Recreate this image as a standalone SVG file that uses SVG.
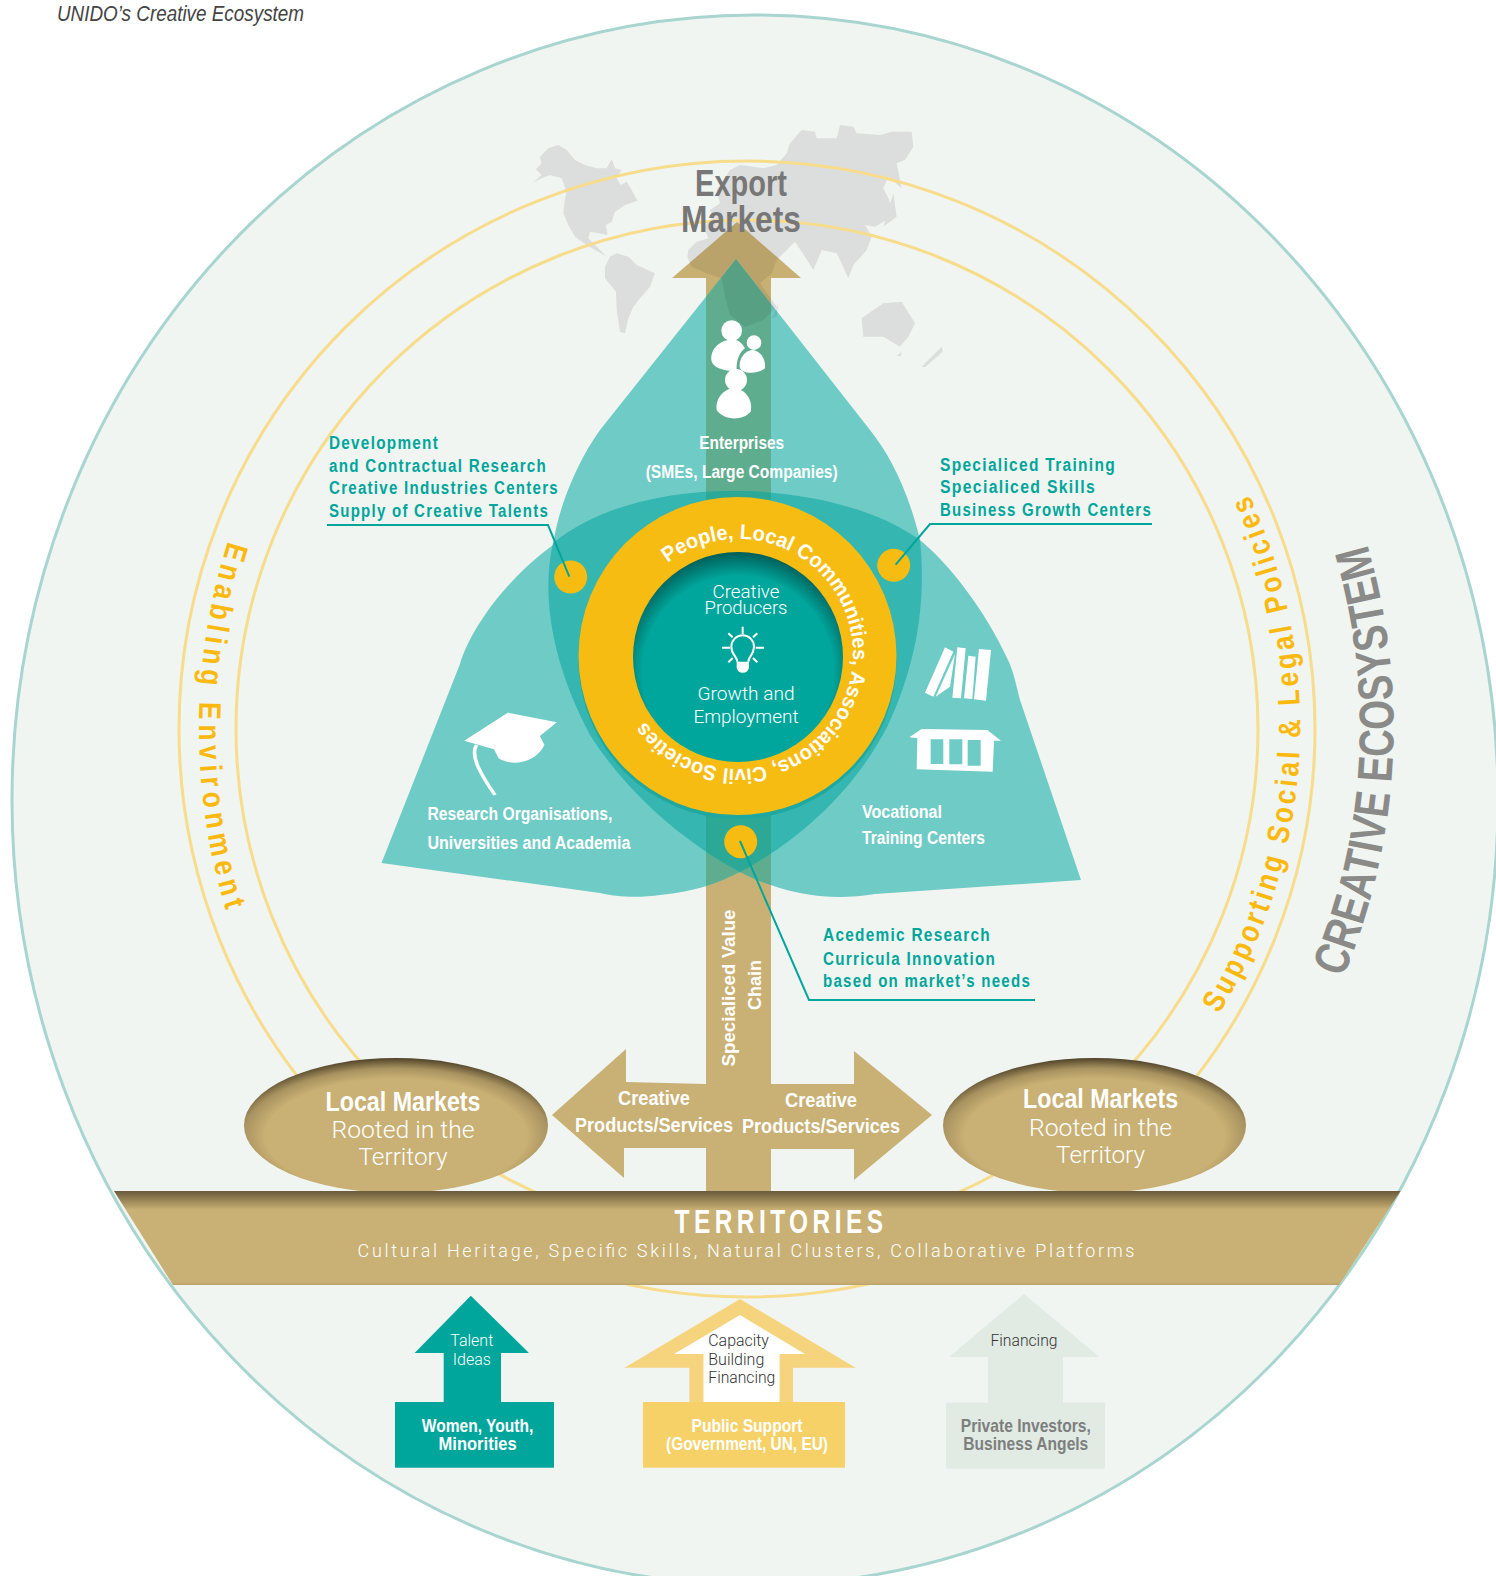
<svg xmlns="http://www.w3.org/2000/svg" xmlns:xlink="http://www.w3.org/1999/xlink" width="1496" height="1576" viewBox="0 0 1496 1576">
<style>
text{font-family:"Liberation Sans",Arial,sans-serif;}
.b{font-weight:700;}
.l{font-family:Roboto,"Liberation Sans",sans-serif;font-weight:300;}
.m{text-anchor:middle;}
.w{fill:#fff;}
.t{fill:#00a69c;font-size:18px;font-weight:700;letter-spacing:1.5px;}
.y{fill:#fbb90f;font-size:31px;font-weight:700;}
.tan{fill:#c9b074;}
.ring{fill:none;stroke:#f7dc8c;stroke-width:3;}
.lead{fill:none;stroke:#00a69c;stroke-width:2;}
.dot{fill:#f6bc12;}
</style>
<defs>
<radialGradient id="core" cx=".5" cy=".57" r=".57"><stop offset=".8" stop-color="#00a69c"/><stop offset="1" stop-color="#005e58"/></radialGradient>
<radialGradient id="oval" cx=".5" cy=".58" r=".58"><stop offset=".74" stop-color="#c9b074"/><stop offset=".87" stop-color="#a8925f"/><stop offset="1" stop-color="#4f4329"/></radialGradient>
<linearGradient id="band" x1="0" y1="0" x2="0" y2="1"><stop offset="0" stop-color="#6a5b3c"/><stop offset=".2" stop-color="#c9b074"/><stop offset=".97" stop-color="#c9b074"/><stop offset="1" stop-color="#b9a36b"/></linearGradient>
<path id="leaf" d="M736 259L870 430C890 455 908 490 920 540C950 565 985 610 1008 660C1015 675 1017 690 1020 700L1081 880L875 894C850 898 825 898 800 893C775 888 755 880 740 872C720 882 695 892 660 895C640 898 615 897 600 893L381.500 863L460 664C470 630 505 580 553 545C558 510 575 465 600 430Z"/>
<path id="lens" d="M553 543C600 505 670 490 740 491C800 492 870 505 920 540C926 600 918 660 888 725C855 790 800 840 740 872C680 840 625 790 590 735C555 670 540 600 553 543Z"/>
<clipPath id="cLeaf"><use href="#leaf"/></clipPath>
<clipPath id="cLens"><use href="#lens"/></clipPath>
<clipPath id="cUp"><path d="M737 222L801 278H771V500H706V278H672Z"/></clipPath>
<g id="map">
<path d="M98 218L125 195L108 178L125 160L120 140L145 115L175 105L200 120L225 150L255 165L290 175L320 175L335 148L345 175L365 180L350 205L362 225L380 215L395 240L412 272L375 285L345 305L335 335L318 345L322 375L295 370L270 365L265 385L300 420L320 440L300 428L260 405L225 380L205 345L190 310L195 265L200 245L185 205L150 195L125 205Z"/>
<path d="M315 470L330 440L350 430L385 440L410 465L465 490L450 530L420 565L400 590L385 625L375 670L360 665L350 600L348 545L315 505Z"/>
<path d="M565 420L590 395L625 385L610 350L640 320L630 300L660 280L650 240L690 180L720 165L760 170L790 175L830 165L860 130L870 100L905 60L945 65L950 85L1010 85L1020 45L1060 50L1070 70L1140 75L1175 65L1235 65L1240 110L1215 150L1190 160L1205 235L1165 200L1150 235L1165 265L1185 315L1125 350L1095 345L1115 380L1100 420L1060 465L1045 505L1020 450L1010 430L965 420L940 480L915 440L885 395L860 420L830 450L815 490L780 520L830 590L790 630L735 650L690 615L675 560L665 505L620 490L575 470L562 440Z"/>
<path d="M1085 625L1120 600L1150 580L1205 575L1245 640L1225 680L1200 710L1150 680L1090 680Z"/>
<path d="M1265 770L1325 710L1328 725L1275 772ZM1190 738L1205 725L1203 738Z"/>
<path d="M815 625L835 580L830 620Z"/>
<path d="M1150 350L1180 250L1190 320Z"/>
</g>
<path id="pSupport" d="M1219 1014A551 551 0 0 0 1247 490"/>
<path id="pEnable" d="M228 541A624 624 0 0 0 228 917"/>
<path id="pEco" d="M1343 978A647 647 0 0 0 1362 528"/>
<path id="pRing" d="M667.800 562.900A115 115 0 1 1 630 693.300"/>
</defs>

<g id="background">
<ellipse cx="755" cy="800" rx="743" ry="785" fill="#f0f5f1" stroke="#a8d5cf" stroke-width="3"/>
<text x="57" y="21" font-size="22" font-style="italic" fill="#444" textLength="247" lengthAdjust="spacingAndGlyphs">UNIDO’s Creative Ecosystem</text>
</g>

<g id="world-map" transform="translate(500 110) scale(.33333)" fill="#dcdedd"><use href="#map"/></g>

<g id="rings">
<ellipse class="ring" cx="747" cy="729" rx="568" ry="568"/>
<ellipse class="ring" cx="747" cy="729" rx="511" ry="509"/>
</g>

<g id="value-chain">
<path class="tan" d="M737 222L801 278H771V1084H854V1051L932 1115L854 1180V1149H771V1191H706V1148H624V1178L552 1115L626 1049V1082L706 1084V278H672Z"/>
<g clip-path="url(#cUp)" opacity=".07"><g transform="translate(500 110) scale(.33333)" fill="#000"><use href="#map"/></g></g>
</g>

<g id="leaves">
<use href="#leaf" fill="#6fcbc5"/>
<rect x="706" y="250" width="65" height="660" fill="#5fad8f" clip-path="url(#cLeaf)"/>
<g clip-path="url(#cLeaf)" opacity=".07"><g transform="translate(500 110) scale(.33333)" fill="#000"><use href="#map"/></g></g>
<use href="#lens" fill="#35b6b0"/>
<rect x="706" y="480" width="65" height="400" fill="#2ba896" clip-path="url(#cLens)"/>
</g>

<g id="centre">
<circle cx="737.500" cy="660" r="159" fill="#1fa89f"/>
<circle cx="737.500" cy="656" r="159" fill="#f6bc12"/>
<circle cx="738" cy="657" r="105" fill="url(#core)"/>
<text class="b w" font-size="21"><textPath href="#pRing" textLength="545" lengthAdjust="spacingAndGlyphs">People, Local Communities, Associations, Civil Societies</textPath></text>
<text x="746" y="598" class="l w m" font-size="19" textLength="67" lengthAdjust="spacingAndGlyphs">Creative</text>
<text x="746" y="614" class="l w m" font-size="19" textLength="83" lengthAdjust="spacingAndGlyphs">Producers</text>
<text x="746" y="700" class="l w m" font-size="19" textLength="97" lengthAdjust="spacingAndGlyphs">Growth and</text>
<text x="746" y="723" class="l w m" font-size="19" textLength="105" lengthAdjust="spacingAndGlyphs">Employment</text>
<g transform="translate(530 480) scale(.33333)">
<path d="M622 545C622 530 604 525 604 500A34 34 0 1 1 672 500C672 525 655 530 655 545" fill="none" stroke="#fff" stroke-width="6"/>
<path d="M620 545H657V562A18 16 0 0 1 620 562Z" fill="#fff"/>
<path d="M638 440V462M576 503H600M677 503H702M595 460L608 472M682 460L669 472M608 534L595 547M669 534L682 547" stroke="#fff" stroke-width="6" fill="none"/>
</g>
</g>

<g id="dots">
<circle class="dot" cx="570.700" cy="577" r="16.500"/>
<circle class="dot" cx="893.700" cy="565.300" r="16.500"/>
<circle class="dot" cx="740.700" cy="841.700" r="16.500"/>
</g>

<g id="connectors">
<path class="lead" d="M569.300 576.700L548 525H327"/>
<path class="lead" d="M895.700 564.700L930 524H1152"/>
<path class="lead" d="M740 841L809 1000H1035"/>
</g>

<g id="export-markets">
<text x="741" y="196" class="b m" font-size="36" fill="#777" textLength="92" lengthAdjust="spacingAndGlyphs">Export</text>
<text x="741" y="232" class="b m" font-size="36" fill="#777" textLength="120" lengthAdjust="spacingAndGlyphs">Markets</text>
</g>

<g id="enterprises">
<g transform="translate(500 110) scale(.33333)" fill="#fff">
<circle cx="695" cy="662" r="31"/>
<path d="M700 688C660 690 632 715 634 750C636 775 680 785 710 782C708 750 720 725 735 715C725 698 715 690 700 688Z"/>
<circle cx="762" cy="698" r="22"/>
<path d="M757 720C735 722 717 745 719 770C722 792 770 795 795 775C798 745 780 722 757 720Z"/>
<circle cx="708" cy="810" r="33"/>
<path d="M700 833C665 840 645 870 650 900C670 930 725 935 752 905C760 870 735 835 700 833Z"/>
</g>
<text x="741.700" y="449" class="b w m" font-size="18" textLength="85" lengthAdjust="spacingAndGlyphs">Enterprises</text>
<text x="741.700" y="478" class="b w m" font-size="18" textLength="192" lengthAdjust="spacingAndGlyphs">(SMEs, Large Companies)</text>
</g>

<g id="research">
<g transform="translate(370 690) scale(.45918 .33333)">
<path d="M205 152L300 68L407 97L370 138L380 165C360 220 310 230 280 205L270 178Z" fill="#fff"/>
<path d="M232 165C215 200 250 270 272 315" fill="none" stroke="#fff" stroke-width="8"/>
</g>
<text x="427.400" y="820" class="b w" font-size="18" textLength="185" lengthAdjust="spacingAndGlyphs">Research Organisations,</text>
<text x="427.400" y="849" class="b w" font-size="18" textLength="203" lengthAdjust="spacingAndGlyphs">Universities and Academia</text>
</g>

<g id="vocational">
<g transform="translate(900 630) scale(.33333)">
<path d="M135 52L160 65L100 200L75 188ZM165 72L150 170L107 200ZM172 52L197 55L183 205L157 203ZM205 77L227 80L217 207L192 205ZM237 57L273 60L258 212L222 208ZM28 322L65 297L262 300L303 332H282L278 425L50 418L52 325Z" fill="#fff"/>
<path d="M92 328H130V402H92ZM148 328H187V403H148ZM203 330H242V407H203Z" fill="#6fcbc5"/>
</g>
<text x="862" y="818" class="b w" font-size="18" textLength="80" lengthAdjust="spacingAndGlyphs">Vocational</text>
<text x="862" y="844" class="b w" font-size="18" textLength="123" lengthAdjust="spacingAndGlyphs">Training Centers</text>
</g>

<g id="label-development">
<text x="329" y="449" class="t" textLength="110" lengthAdjust="spacingAndGlyphs">Development</text>
<text x="329" y="472" class="t" textLength="218" lengthAdjust="spacingAndGlyphs">and Contractual Research</text>
<text x="329" y="494" class="t" textLength="230" lengthAdjust="spacingAndGlyphs">Creative Industries Centers</text>
<text x="329" y="517" class="t" textLength="220" lengthAdjust="spacingAndGlyphs">Supply of Creative Talents</text>
</g>
<g id="label-training">
<text x="940" y="471" class="t" textLength="176" lengthAdjust="spacingAndGlyphs">Specialiced Training</text>
<text x="940" y="493" class="t" textLength="156" lengthAdjust="spacingAndGlyphs">Specialiced Skills</text>
<text x="940" y="516" class="t" textLength="212" lengthAdjust="spacingAndGlyphs">Business Growth Centers</text>
</g>
<g id="label-academic">
<text x="823" y="941" class="t" textLength="168" lengthAdjust="spacingAndGlyphs">Acedemic Research</text>
<text x="823" y="965" class="t" textLength="173" lengthAdjust="spacingAndGlyphs">Curricula Innovation</text>
<text x="823" y="987" class="t" textLength="208" lengthAdjust="spacingAndGlyphs">based on market’s needs</text>
</g>

<g id="chain-labels">
<text transform="translate(735 988) rotate(-90)" class="b w m" font-size="18" textLength="157" lengthAdjust="spacingAndGlyphs">Specialiced Value</text>
<text transform="translate(761 985) rotate(-90)" class="b w m" font-size="18" textLength="50" lengthAdjust="spacingAndGlyphs">Chain</text>
<text x="654" y="1105" class="b w m" font-size="20" textLength="72" lengthAdjust="spacingAndGlyphs">Creative</text>
<text x="654" y="1132" class="b w m" font-size="20" textLength="158" lengthAdjust="spacingAndGlyphs">Products/Services</text>
<text x="821" y="1107" class="b w m" font-size="20" textLength="72" lengthAdjust="spacingAndGlyphs">Creative</text>
<text x="821" y="1133" class="b w m" font-size="20" textLength="158" lengthAdjust="spacingAndGlyphs">Products/Services</text>
</g>

<g id="market-left">
<ellipse cx="396" cy="1125.500" rx="152" ry="67.500" fill="url(#oval)"/>
<text x="403" y="1111" class="b w m" font-size="27" textLength="155" lengthAdjust="spacingAndGlyphs">Local Markets</text>
<text x="403" y="1138" class="l w m" font-size="24" textLength="143" lengthAdjust="spacingAndGlyphs">Rooted in the</text>
<text x="403" y="1165" class="l w m" font-size="24" textLength="89" lengthAdjust="spacingAndGlyphs">Territory</text>
</g>
<g id="market-right">
<ellipse cx="1094.500" cy="1125.500" rx="151.500" ry="67.500" fill="url(#oval)"/>
<text x="1100.600" y="1108" class="b w m" font-size="27" textLength="155" lengthAdjust="spacingAndGlyphs">Local Markets</text>
<text x="1100.600" y="1136" class="l w m" font-size="24" textLength="143" lengthAdjust="spacingAndGlyphs">Rooted in the</text>
<text x="1100.600" y="1163" class="l w m" font-size="24" textLength="89" lengthAdjust="spacingAndGlyphs">Territory</text>
</g>

<g id="territories">
<path d="M114 1191H1400.500L1339 1285H173Z" fill="url(#band)"/>
<text x="781" y="1233" class="b w m" font-size="33" letter-spacing="6" textLength="213" lengthAdjust="spacingAndGlyphs">TERRITORIES</text>
<text x="746" y="1257" class="l w m" font-size="18" textLength="777" lengthAdjust="spacing">Cultural Heritage, Specific Skills, Natural Clusters, Collaborative Platforms</text>
</g>

<g id="women">
<path d="M470.800 1295.700L529 1353H501V1402H443.700V1353H414.600Z" fill="#00a69c"/>
<rect x="395" y="1402" width="159" height="65.700" fill="#00a69c"/>
<text x="471.800" y="1346" class="l w m" font-size="16" textLength="43" lengthAdjust="spacingAndGlyphs">Talent</text>
<text x="471.800" y="1365" class="l w m" font-size="16" textLength="38" lengthAdjust="spacingAndGlyphs">Ideas</text>
<text x="477.600" y="1431.700" class="b w m" font-size="19" textLength="111.500" lengthAdjust="spacingAndGlyphs">Women, Youth,</text>
<text x="477.600" y="1450" class="b w m" font-size="19" textLength="78" lengthAdjust="spacingAndGlyphs">Minorities</text>
</g>
<g id="public-support">
<path d="M740 1299L855.700 1367.700H793V1402H689.400V1367.700H624.500Z" fill="#f6d47e"/>
<path d="M740 1315L805 1354H779.600V1402H703.500V1354H674Z" fill="#fff"/>
<rect x="643" y="1402" width="202" height="65.700" fill="#f5d168"/>
<text x="708.300" y="1346" class="l" font-size="16" fill="#333" textLength="60.600" lengthAdjust="spacingAndGlyphs">Capacity</text>
<text x="708.300" y="1365" class="l" font-size="16" fill="#333" textLength="56" lengthAdjust="spacingAndGlyphs">Building</text>
<text x="708.300" y="1383" class="l" font-size="16" fill="#333" textLength="67" lengthAdjust="spacingAndGlyphs">Financing</text>
<text x="747" y="1431.700" class="b w m" font-size="19" textLength="111" lengthAdjust="spacingAndGlyphs">Public Support</text>
<text x="747" y="1450" class="b w m" font-size="19" textLength="162" lengthAdjust="spacingAndGlyphs">(Government, UN, EU)</text>
</g>
<g id="private">
<path d="M1024 1294L1099.500 1357H1063V1403H988V1357H949Z" fill="#e1ebe4"/>
<rect x="946" y="1402.700" width="159" height="66" fill="#e1ebe4"/>
<text x="1024" y="1346" class="l m" font-size="16" fill="#333" textLength="67" lengthAdjust="spacingAndGlyphs">Financing</text>
<text x="1025.800" y="1431.700" class="b m" font-size="19" fill="#7d7f7d" textLength="130" lengthAdjust="spacingAndGlyphs">Private Investors,</text>
<text x="1025.800" y="1450" class="b m" font-size="19" fill="#7d7f7d" textLength="125" lengthAdjust="spacingAndGlyphs">Business Angels</text>
</g>

<g id="ring-labels">
<text class="y" letter-spacing="6"><textPath href="#pEnable" textLength="380" lengthAdjust="spacingAndGlyphs">Enabling Environment</textPath></text>
<text class="y" letter-spacing="4"><textPath href="#pSupport" textLength="545" lengthAdjust="spacingAndGlyphs">Supporting Social &amp; Legal Policies</textPath></text>
<text class="b" font-size="49" fill="#8a8a88"><textPath href="#pEco" textLength="443" lengthAdjust="spacingAndGlyphs">CREATIVE ECOSYSTEM</textPath></text>
</g>
</svg>
